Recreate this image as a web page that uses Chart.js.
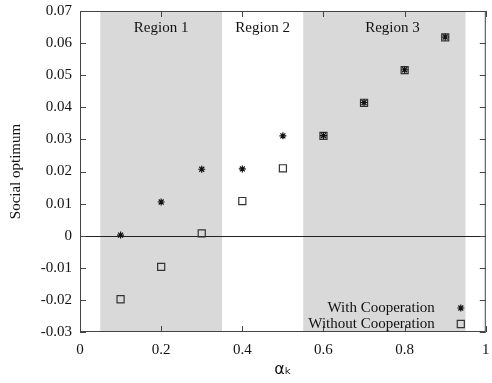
<!DOCTYPE html>
<html>
<head>
<meta charset="utf-8">
<script src="https://cdn.jsdelivr.net/npm/chart.js@4"></script>
<style>
  html, body { margin: 0; padding: 0; background: #fff; }
  #wrap { width: 492px; height: 383px; }
</style>
</head>
<body>
<div id="wrap"><canvas id="chart" width="492" height="383"></canvas></div>
<script>
// values
const alphas = [0.1, 0.2, 0.3, 0.4, 0.5, 0.6, 0.7, 0.8, 0.9];
const withCoop = [0.0002, 0.0105, 0.0207, 0.0208, 0.0311, 0.0312, 0.0415, 0.0517, 0.0619];
const withoutCoop = [-0.0198, -0.0097, 0.0007, 0.0108, 0.0210, 0.0311, 0.0414, 0.0516, 0.0618];
const regionNames = ['Region 1', 'Region 2', 'Region 3'];
const regionFrom = [0.05, 0.35, 0.55];
const regionTo = [0.35, 0.55, 0.95];
const regionShaded = [true, false, true];
const regionLabelAt = [0.2, 0.45, 0.77];
const seriesNames = ['With Cooperation', 'Without Cooperation'];

const serif = '"Liberation Serif", "DejaVu Serif", serif';

const toPoints = ys => alphas.map((x, i) => ({ x: x, y: ys[i] }));

const decorations = {
  id: 'decorations',
  beforeDatasetsDraw(chart) {
    const { ctx, chartArea: a, scales: { x, y } } = chart;
    ctx.save();
    // shaded regions
    ctx.fillStyle = '#d9d9d9';
    regionFrom.forEach((f, i) => {
      if (!regionShaded[i]) return;
      const x0 = x.getPixelForValue(f), x1 = x.getPixelForValue(regionTo[i]);
      ctx.fillRect(x0, a.top, x1 - x0, a.bottom - a.top);
    });
    // region labels
    ctx.fillStyle = '#111';
    ctx.font = '15px ' + serif;
    ctx.textAlign = 'center';
    ctx.textBaseline = 'middle';
    regionNames.forEach((n, i) => ctx.fillText(n, x.getPixelForValue(regionLabelAt[i]), a.top + 17));
    // zero line
    const y0 = Math.round(y.getPixelForValue(0)) + 0.5;
    ctx.strokeStyle = '#222';
    ctx.lineWidth = 1;
    ctx.beginPath();
    ctx.moveTo(a.left, y0);
    ctx.lineTo(a.right, y0);
    ctx.stroke();
    // frame and inward ticks
    ctx.strokeStyle = '#444';
    ctx.strokeRect(a.left + 0.5, a.top + 0.5, a.right - a.left - 1, a.bottom - a.top - 1);
    ctx.beginPath();
    x.ticks.forEach(t => {
      const px = Math.round(x.getPixelForValue(t.value)) + 0.5;
      ctx.moveTo(px, a.bottom); ctx.lineTo(px, a.bottom - 6);
      ctx.moveTo(px, a.top); ctx.lineTo(px, a.top + 6);
    });
    y.ticks.forEach(t => {
      const py = Math.round(y.getPixelForValue(t.value)) + 0.5;
      ctx.moveTo(a.left, py); ctx.lineTo(a.left + 6, py);
      ctx.moveTo(a.right, py); ctx.lineTo(a.right - 6, py);
    });
    ctx.stroke();
    ctx.restore();
  },
  afterDatasetsDraw(chart) {
    const { ctx, chartArea: a } = chart;
    ctx.save();
    ctx.font = '15px ' + serif;
    ctx.textAlign = 'right';
    ctx.textBaseline = 'middle';
    chart.data.datasets.forEach((ds, i) => {
      const ly = a.bottom - 24 + i * 16;
      ctx.fillStyle = '#111';
      ctx.fillText(seriesNames[i], a.right - 51, ly);
      ctx.strokeStyle = ds.borderColor;
      ctx.fillStyle = ds.backgroundColor;
      ctx.lineWidth = ds.borderWidth;
      Chart.helpers.drawPoint(ctx, { pointStyle: ds.pointStyle, radius: ds.pointRadius, borderWidth: ds.borderWidth, rotation: 0 }, a.right - 25, ly);
    });
    ctx.restore();
  }
};

new Chart(document.getElementById('chart'), {
  type: 'scatter',
  data: {
    datasets: [
      { label: seriesNames[0], data: toPoints(withCoop), pointStyle: 'star', pointRadius: 3.5,
        borderColor: '#111', backgroundColor: '#111', borderWidth: 1.2 },
      { label: seriesNames[1], data: toPoints(withoutCoop), pointStyle: 'rect', pointRadius: 5,
        borderColor: '#333', backgroundColor: 'rgba(0,0,0,0)', borderWidth: 1.2 }
    ]
  },
  options: {
    responsive: false,
    animation: false,
    layout: { padding: { left: 0, right: 3, top: 11, bottom: 0 } },
    plugins: { legend: { display: false }, tooltip: { enabled: false } },
    scales: {
      x: {
        type: 'linear', min: 0, max: 1,
        ticks: { stepSize: 0.2, color: '#111', padding: 9, maxRotation: 0,
          font: { family: serif, size: 15 },
          callback: v => (Math.round(v * 10) / 10).toString() },
        grid: { display: false, drawTicks: false },
        border: { display: false },
        title: { display: true, text: 'αₖ', color: '#111', padding: { top: 5 },
          font: { family: '"DejaVu Sans", sans-serif', size: 16 } },
        afterFit: s => { s.height = 51; s.paddingLeft = 0; s.paddingRight = 0; }
      },
      y: {
        min: -0.03, max: 0.07,
        ticks: { stepSize: 0.01, color: '#111', padding: 8,
          font: { family: serif, size: 15 },
          callback: v => { const r = Math.round(v * 100) / 100; return r === 0 ? '0' : r.toFixed(2); } },
        grid: { display: false, drawTicks: false },
        border: { display: false },
        title: { display: true, text: 'Social optimum', color: '#111', padding: { top: 7, bottom: 0 },
          font: { family: serif, size: 15 } },
        afterFit: s => { s.width = 80; s.paddingTop = 0; s.paddingBottom = 0; }
      }
    }
  },
  plugins: [decorations]
});
</script>
</body>
</html>
